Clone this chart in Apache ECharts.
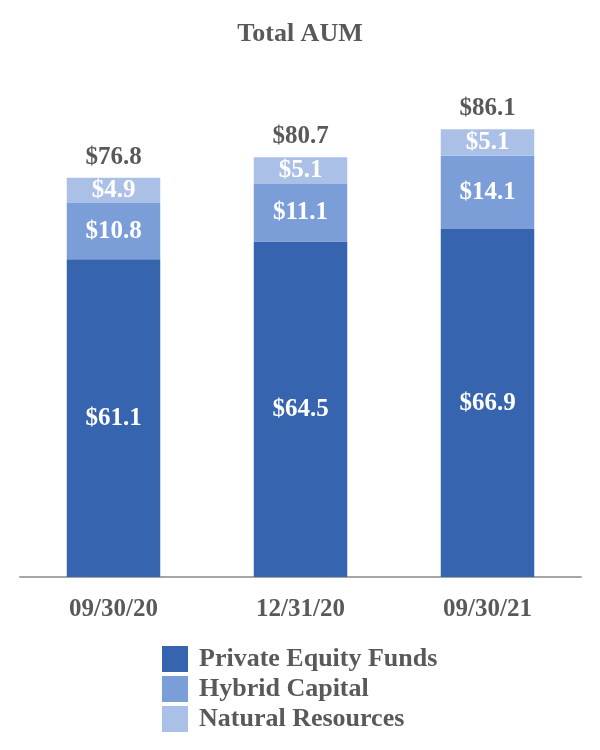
<!DOCTYPE html>
<html><head><meta charset="utf-8">
<script src="https://cdn.jsdelivr.net/npm/echarts@6/dist/echarts.min.js"></script>
<style>html,body{margin:0;padding:0;background:#fff}#c{width:600px;height:750px}</style>
</head><body><div id="c"></div>
<script>
var categories = ['09/30/20', '12/31/20', '09/30/21'];
var privateEquity = [61.1, 64.5, 66.9];
var hybridCapital = [10.8, 11.1, 14.1];
var naturalResources = [4.9, 5.1, 5.1];
var totals = [76.8, 80.7, 86.1];
var seriesNames = ['Private Equity Funds', 'Hybrid Capital', 'Natural Resources'];
var colors = ['#3664AE', '#7B9ED8', '#AAC0E6'];

var font = '"Liberation Serif", "Times New Roman", serif';
var gray = '#595959';
function inLabel() {
  return { show: true, position: 'inside', color: '#fff', fontFamily: font, fontWeight: 'bold', fontSize: 25,
    formatter: function (p) { return '$' + p.value.toFixed(1); } };
}
var chart = echarts.init(document.getElementById('c'));
chart.setOption({
  animation: false,
  title: { text: 'Total AUM', left: 'center', top: 16, textStyle: { fontFamily: font, fontWeight: 'bold', fontSize: 26, color: gray } },
  grid: { left: 20, right: 19, top: 57, bottom: 173, containLabel: false },
  legend: {
    data: seriesNames, orient: 'vertical', left: 157, top: 641, itemWidth: 26, itemHeight: 26, itemGap: 4,
    icon: 'rect', textStyle: { fontFamily: font, fontWeight: 'bold', fontSize: 26, color: gray, padding: [0, 0, 0, 6] }
  },
  xAxis: {
    type: 'category', data: categories,
    axisLine: { show: true, lineStyle: { color: '#A6A6A6', width: 2 } },
    axisTick: { show: false },
    axisLabel: { fontFamily: font, fontWeight: 'bold', fontSize: 25, color: gray, margin: 20 }
  },
  yAxis: { type: 'value', min: 0, max: 100, show: false, splitLine: { show: false } },
  series: [
    { name: seriesNames[0], type: 'bar', stack: 'a', barWidth: '50%', data: privateEquity, itemStyle: { color: colors[0] }, label: inLabel() },
    { name: seriesNames[1], type: 'bar', stack: 'a', data: hybridCapital, itemStyle: { color: colors[1] }, label: inLabel() },
    { name: seriesNames[2], type: 'bar', stack: 'a', data: naturalResources, itemStyle: { color: colors[2] }, label: inLabel() },
    { name: 'Total', type: 'scatter', data: totals, symbolSize: 0, silent: true, itemStyle: { opacity: 1 },
      label: { show: true, position: 'top', distance: 8, fontFamily: font, fontWeight: 'bold', fontSize: 25, color: gray, opacity: 1,
        formatter: function (p) { return '$' + p.value.toFixed(1); } } }
  ]
});
</script></body></html>
